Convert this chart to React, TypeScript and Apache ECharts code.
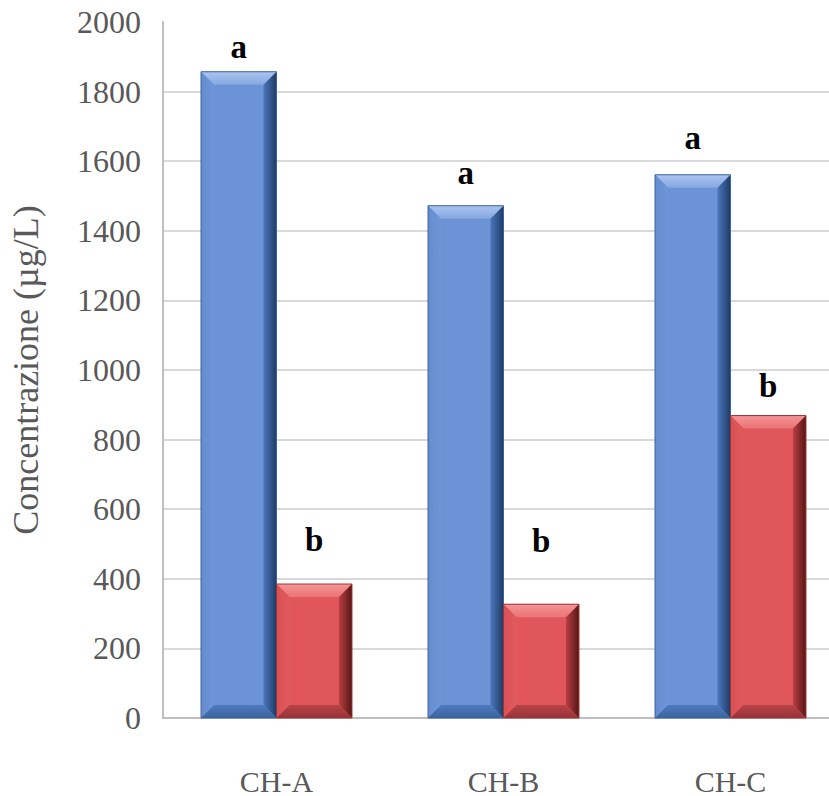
import React, { useEffect, useRef } from "react";
import * as echarts from "echarts";

const categories = ["CH-A", "CH-B", "CH-C"];
const blueValues = [1857, 1472, 1561];
const redValues = [385, 327, 869];
const blueLetters = ["a", "a", "a"];
const redLetters = ["b", "b", "b"];
const blueLetterY = [1928, 1567, 1667];
const redLetterY = [511, 508, 953];
const yTicks = [0, 200, 400, 600, 800, 1000, 1200, 1400, 1600, 1800, 2000];

const GAP = 0.335;
const BEVEL = 13;

const palettes = [
  {
    main: "#6b93d5",
    top: ["#abc4ee", "#85a8e1"],
    left: ["#648ccf", "#6f96d7"],
    right: ["#4b76bb", "#1e3b66"],
    bottom: ["#4f7abd", "#3a639f"],
    edge: "#3d639f",
  },
  {
    main: "#e1565a",
    top: ["#f49597", "#eb7375"],
    left: ["#da5154", "#e05a5d"],
    right: ["#b83f42", "#561616"],
    bottom: ["#b84447", "#98333a"],
    edge: "#9a3336",
  },
];

function grad(x0: number, y0: number, x1: number, y1: number, c: string[]) {
  return new echarts.graphic.LinearGradient(x0, y0, x1, y1, [
    { offset: 0, color: c[0] },
    { offset: 1, color: c[1] },
  ]);
}

export default function App() {
  const ref = useRef<HTMLDivElement>(null);
  useEffect(() => {
    if (!ref.current) return;
    const chart = echarts.init(ref.current, null, { renderer: "svg" });

    const makeData = (vals: number[], ly: number[], s: number) =>
      vals.map((v, i) => [i, v, ly[i], s]);

    const letterSets = [blueLetters, redLetters];

    const renderItem = (params: any, api: any) => {
      const cat = api.value(0);
      const val = api.value(1);
      const ly = api.value(2);
      const s = api.value(3);
      const base = api.coord([cat, 0]);
      const top = api.coord([cat, val]);
      const band = api.size([1, 0])[0];
      const bw = (band * (1 - GAP)) / 2;
      const x = base[0] - bw + s * bw;
      const y = top[1];
      const w = bw;
      const h = base[1] - top[1];
      const b = BEVEL;
      const p = palettes[s];
      const lp = api.coord([cat, ly]);
      return {
        type: "group",
        children: [
          { type: "rect", shape: { x, y, width: w, height: h }, style: { fill: p.main } },
          {
            type: "polygon",
            shape: { points: [[x, y], [x + w, y], [x + w - b, y + b], [x + b, y + b]] },
            style: { fill: grad(0, 0, 0, 1, p.top) },
          },
          {
            type: "polygon",
            shape: { points: [[x, y], [x + b, y + b], [x + b, y + h - b], [x, y + h]] },
            style: { fill: grad(0, 0, 1, 0, p.left) },
          },
          {
            type: "polygon",
            shape: { points: [[x + w, y], [x + w, y + h], [x + w - b, y + h - b], [x + w - b, y + b]] },
            style: { fill: grad(0, 0, 1, 0, p.right) },
          },
          {
            type: "polygon",
            shape: { points: [[x, y + h], [x + w, y + h], [x + w - b, y + h - b], [x + b, y + h - b]] },
            style: { fill: grad(0, 0, 0, 1, p.bottom) },
          },
          {
            type: "rect",
            shape: { x, y, width: w, height: h },
            style: { fill: "none", stroke: p.edge, lineWidth: 1 },
          },
          {
            type: "text",
            style: {
              text: letterSets[s][cat],
              x: x + w / 2,
              y: lp[1],
              align: "center",
              verticalAlign: "middle",
              fontFamily: "Liberation Serif",
              fontWeight: "bold",
              fontSize: 33,
              fill: "#000000",
            },
          },
        ],
      };
    };

    const gridColors = yTicks.map((t, i) => (i === yTicks.length - 1 ? "rgba(0,0,0,0)" : "#d9d9d9"));

    chart.setOption({
      animation: false,
      grid: { left: 163, top: 22, bottom: 77, right: 16, containLabel: false },
      xAxis: {
        type: "category",
        data: categories,
        axisLine: { lineStyle: { color: "#bfbfbf", width: 2 } },
        axisTick: { show: false },
        axisLabel: {
          margin: 48,
          fontFamily: "Liberation Serif",
          fontSize: 30,
          color: "#595959",
        },
      },
      yAxis: {
        type: "value",
        min: 0,
        max: 2000,
        interval: 200,
        name: "Concentrazione (µg/L)",
        nameLocation: "middle",
        nameGap: 119,
        nameTextStyle: { fontFamily: "Liberation Serif", fontSize: 36, color: "#595959" },
        axisLine: { show: true, lineStyle: { color: "#bfbfbf", width: 2 } },
        axisTick: { show: false },
        axisLabel: {
          margin: 22,
          fontFamily: "Liberation Serif",
          fontSize: 32,
          color: "#595959",
          formatter: (v: number) => String(v),
        },
        splitLine: { show: true, lineStyle: { color: gridColors, width: 2 } },
      },
      series: [
        {
          type: "custom",
          name: "Blue",
          renderItem,
          data: makeData(blueValues, blueLetterY, 0),
          encode: { x: 0, y: 1 },
          clip: false,
        },
        {
          type: "custom",
          name: "Red",
          renderItem,
          data: makeData(redValues, redLetterY, 1),
          encode: { x: 0, y: 1 },
          clip: false,
        },
      ],
    });
    return () => chart.dispose();
  }, []);
  return (
    <div
      style={{ position: "fixed", left: 0, top: 0, width: 829, height: 796, overflow: "hidden", background: "#ffffff" }}
    >
      <div ref={ref} style={{ width: 860, height: 796 }} />
    </div>
  );
}
